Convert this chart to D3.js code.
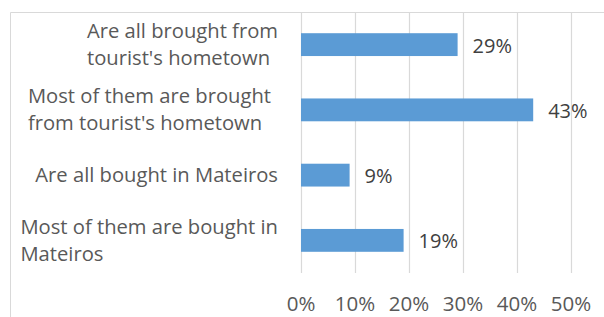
<!DOCTYPE html>
<html>
<head>
<meta charset="utf-8">
<script src="https://cdn.jsdelivr.net/npm/d3@7"></script>
<style>
  body { margin: 0; background: #fff; }
  svg { display: block; font-family: "Open Sans", Lato, sans-serif; }
</style>
</head>
<body>
<svg id="chart"></svg>
<script>
const width = 604;
const height = 317;

const categories = [
  ['Are all brought from', "tourist's hometown"],
  ['Most of them are brought', "from tourist's hometown"],
  ['Are all bought in Mateiros'],
  ['Most of them are bought in', 'Mateiros']
];
const values = [29, 43, 9, 19];
const ticks = [0, 10, 20, 30, 40, 50];

const plot = { left: 301, right: 571, top: 12, bottom: 273 };

const svg = d3.select('#chart')
              .attr('width', width)
              .attr('height', height);

// outer chart border (cut off at right and bottom like the picture)
svg.append('path')
   .attr('d', `M10.5,${height} V12.5 H${width}`)
   .attr('fill', 'none')
   .attr('stroke', '#d9d9d9')
   .attr('stroke-width', 1);

const x = d3.scaleLinear()
            .domain([0, 50])
            .range([plot.left, plot.right]);

const y = d3.scaleBand()
            .domain(d3.range(categories.length))
            .range([plot.top, plot.bottom])
            .paddingInner(0.65)
            .paddingOuter(0.325);

// gridlines
svg.append('g')
   .selectAll('line')
   .data(ticks)
   .enter()
   .append('line')
   .attr('x1', d => Math.round(x(d)) + 0.5)
   .attr('x2', d => Math.round(x(d)) + 0.5)
   .attr('y1', plot.top)
   .attr('y2', plot.bottom)
   .attr('stroke', '#d9d9d9')
   .attr('stroke-width', 1.2);

// tick labels
svg.append('g')
   .selectAll('text')
   .data(ticks)
   .enter()
   .append('text')
   .attr('x', d => x(d))
   .attr('y', 311)
   .attr('text-anchor', 'middle')
   .attr('fill', '#595959')
   .attr('font-size', 20.5)
   .text(d => d + '%');

// bars
svg.append('g')
   .selectAll('rect')
   .data(values)
   .enter()
   .append('rect')
   .attr('x', x(0))
   .attr('y', (d, i) => y(i))
   .attr('width', d => x(d) - x(0))
   .attr('height', y.bandwidth())
   .attr('fill', '#5b9bd5');

// value labels
svg.append('g')
   .selectAll('text')
   .data(values)
   .enter()
   .append('text')
   .attr('x', d => x(d) + 15)
   .attr('y', (d, i) => y(i) + y.bandwidth() / 2 + 8)
   .attr('fill', '#404040')
   .attr('font-size', 20)
   .text(d => d + '%');

// category labels: wrapped lines, left aligned in a block that is right aligned
// (the second label sits a bit further left in the original)
const labelRight = [278, 271, 278, 278];
const lineHeight = 27;
const labels = svg.append('g');
categories.forEach((lines, i) => {
  const t = labels.append('text')
                  .attr('fill', '#595959')
                  .attr('font-size', 20.2);
  const cy = y(i) + y.bandwidth() / 2;
  lines.forEach((line, j) => {
    t.append('tspan')
     .attr('y', cy + 7 + (j - (lines.length - 1) / 2) * lineHeight)
     .text(line);
  });
  let maxW = 0;
  t.selectAll('tspan').each(function () {
    maxW = Math.max(maxW, this.getComputedTextLength());
  });
  t.selectAll('tspan').attr('x', labelRight[i] - maxW);
});
</script>
</body>
</html>
